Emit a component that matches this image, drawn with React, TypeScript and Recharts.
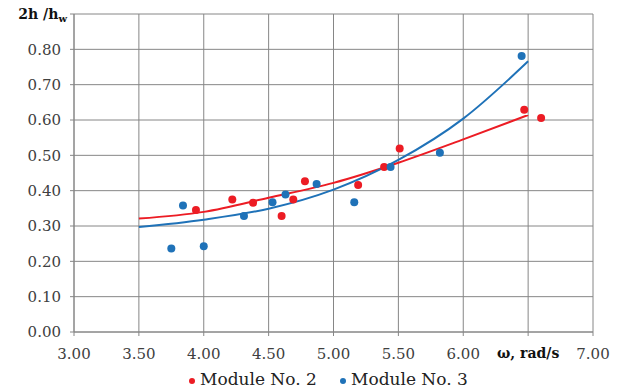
import {
  ComposedChart,
  Scatter,
  Line,
  XAxis,
  YAxis,
  CartesianGrid,
} from "recharts";

// Module No. 2 measurements
const omegaModule2 = [3.94, 4.22, 4.38, 4.6, 4.69, 4.78, 5.19, 5.39, 5.51, 6.47, 6.6];
const ratioModule2 = [0.345, 0.375, 0.366, 0.328, 0.375, 0.427, 0.416, 0.467, 0.519, 0.629, 0.606];

// Module No. 3 measurements
const omegaModule3 = [3.75, 3.84, 4.0, 4.31, 4.53, 4.63, 4.87, 5.16, 5.44, 5.82, 6.45];
const ratioModule3 = [0.236, 0.358, 0.243, 0.328, 0.367, 0.389, 0.419, 0.367, 0.467, 0.507, 0.781];

// trend curves, sampled along omega
const trendOmega = [3.5, 4.0, 4.5, 5.0, 5.5, 6.0, 6.5];
const trendModule2 = [0.321, 0.34, 0.38, 0.422, 0.479, 0.545, 0.614];
const trendModule3 = [0.297, 0.318, 0.349, 0.403, 0.487, 0.604, 0.766];

const xTicks = [3, 3.5, 4, 4.5, 5, 5.5, 6, 6.5, 7];
const yTicks = [0, 0.1, 0.2, 0.3, 0.4, 0.5, 0.6, 0.7, 0.8, 0.9];

const RED = "#ec1c24";
const BLUE = "#1f72b8";
const GRID = "#868686";
const LABEL = "#404040";
const FONT = "DejaVu Serif, serif";

const module2 = omegaModule2.map((x, i) => ({ x, y: ratioModule2[i] }));
const module3 = omegaModule3.map((x, i) => ({ x, y: ratioModule3[i] }));
const trend2 = trendOmega.map((x, i) => ({ x, y: trendModule2[i] }));
const trend3 = trendOmega.map((x, i) => ({ x, y: trendModule3[i] }));

function XTick({ x, y, payload }: any) {
  if (payload.value === 6.5) {
    return (
      <text x={x} y={y} dy="0.71em" textAnchor="middle" style={{ fontFamily: FONT }} fontSize={14} fontWeight="bold" fill="#111">
        ω, rad/s
      </text>
    );
  }
  return (
    <text x={x} y={y} dy="0.71em" textAnchor="middle" style={{ fontFamily: FONT }} fontSize={15} fill={LABEL}>
      {payload.value.toFixed(2)}
    </text>
  );
}

function YTick({ x, y, payload }: any) {
  if (Math.abs(payload.value - 0.9) < 1e-6) {
    return (
      <text x={x + 6} y={y + 4.5} textAnchor="end" style={{ fontFamily: FONT }} fontSize={14} fontWeight="bold" fill="#111">
        2h /h
        <tspan fontSize={10} dy={3}>w</tspan>
      </text>
    );
  }
  return (
    <text x={x} y={y} dy="0.355em" textAnchor="end" style={{ fontFamily: FONT }} fontSize={15} fill={LABEL}>
      {payload.value.toFixed(2)}
    </text>
  );
}

const dot = (color: string) => (props: any) => (
  <circle cx={props.cx} cy={props.cy} r={4} fill={color} />
);

const legendItems = [
  { label: "Module No. 2", color: RED, left: 189 },
  { label: "Module No. 3", color: BLUE, left: 340 },
];

export default function App() {
  return (
    <div style={{ position: "absolute", left: 0, top: 0, width: 619, height: 390, background: "#fff" }}>
      <ComposedChart width={619} height={390} margin={{ top: 14, right: 26, left: 14, bottom: 28 }}>
        <CartesianGrid stroke={GRID} strokeWidth={1} />
        <XAxis
          type="number"
          dataKey="x"
          domain={[3, 7]}
          ticks={xTicks}
          interval={0}
          stroke={GRID}
          tickSize={4}
          tickMargin={12}
          tick={<XTick />}
          height={30}
        />
        <YAxis
          type="number"
          dataKey="y"
          domain={[0, 0.9]}
          ticks={yTicks}
          interval={0}
          stroke={GRID}
          tickSize={4}
          tickMargin={9}
          tick={<YTick />}
          width={60}
        />
        <Line
          data={trend2}
          dataKey="y"
          type="monotone"
          stroke={RED}
          strokeWidth={2}
          dot={false}
          activeDot={false}
          isAnimationActive={false}
        />
        <Line
          data={trend3}
          dataKey="y"
          type="monotone"
          stroke={BLUE}
          strokeWidth={2}
          dot={false}
          activeDot={false}
          isAnimationActive={false}
        />
        <Scatter data={module2} dataKey="y" fill={RED} shape={dot(RED)} isAnimationActive={false} />
        <Scatter data={module3} dataKey="y" fill={BLUE} shape={dot(BLUE)} isAnimationActive={false} />
      </ComposedChart>
      {legendItems.map((item) => (
        <div
          key={item.label}
          style={{
            position: "absolute",
            left: item.left,
            top: 369,
            height: 20,
            display: "flex",
            alignItems: "center",
            fontFamily: FONT,
            fontSize: 17,
            lineHeight: "20px",
            color: "#222",
            whiteSpace: "nowrap",
          }}
        >
          <span
            style={{
              display: "inline-block",
              width: 6,
              height: 6,
              borderRadius: 3,
              background: item.color,
              marginRight: 5,
              marginTop: 3,
            }}
          />
          {item.label}
        </div>
      ))}
    </div>
  );
}
